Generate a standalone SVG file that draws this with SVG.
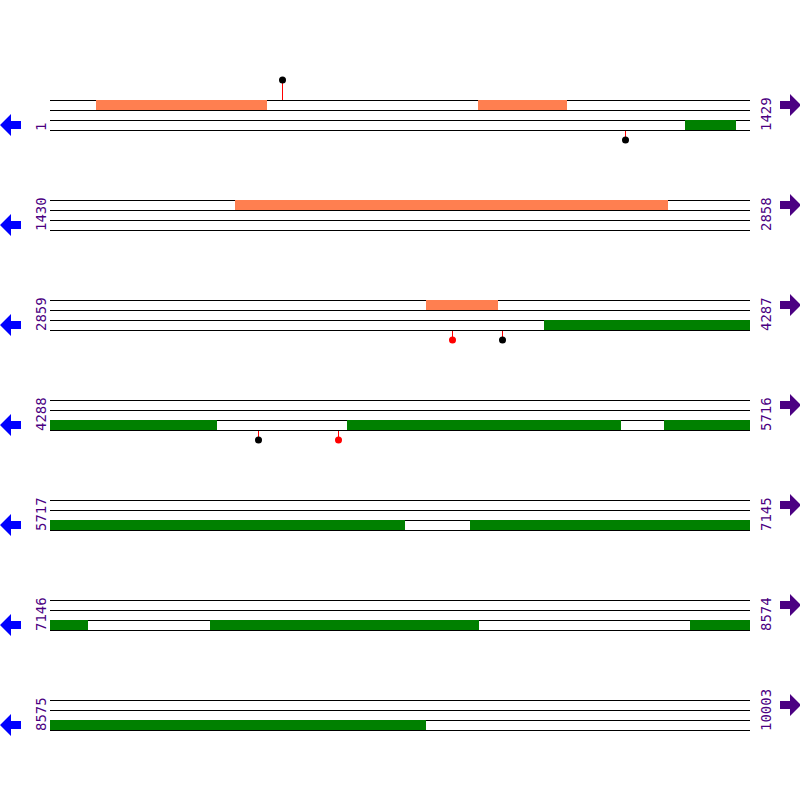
<svg xmlns="http://www.w3.org/2000/svg" width="800" height="800" viewBox="0 0 800 800">
<style>
.ln{stroke:#000;stroke-width:1}
.or{fill:#FF7F50}
.gr{fill:#008000}
.lab{font-family:"DejaVu Sans Mono","Liberation Mono",monospace;font-size:14px;fill:#4B0082}
.la{fill:#0000FF}
.ra{fill:#4B0082}
.st{stroke:#FF0000;stroke-width:1}
</style>
<defs>
<g id="tracks">
<line class="ln" x1="50" y1="100.5" x2="750" y2="100.5"/>
<line class="ln" x1="50" y1="110.5" x2="750" y2="110.5"/>
<line class="ln" x1="50" y1="120.5" x2="750" y2="120.5"/>
<line class="ln" x1="50" y1="130.5" x2="750" y2="130.5"/>
</g>
<polygon id="larr" points="0,125 11,114 11,121 21,121 21,129 11,129 11,136"/>
<polygon id="rarr" points="801,105 790,94 790,101 780,101 780,109 790,109 790,116"/>
</defs>
<g id="row1">
<use href="#tracks"/>
<rect class="or" x="96" y="100" width="171" height="10"/>
<rect class="or" x="478" y="100" width="89" height="10"/>
<rect class="gr" x="685" y="120" width="51" height="10"/>
<line class="st" x1="282.5" y1="100" x2="282.5" y2="80"/>
<circle cx="282.5" cy="80" r="3.5" fill="#000"/>
<line class="st" x1="625.5" y1="131" x2="625.5" y2="140"/>
<circle cx="625.5" cy="140" r="3.5" fill="#000"/>
<text class="lab" transform="translate(46,131) rotate(-90)">1</text>
<text class="lab" transform="translate(771,131) rotate(-90)">1429</text>
<use href="#larr" class="la"/>
<use href="#rarr" class="ra"/>
</g>
<g id="row2" transform="translate(0,100)">
<use href="#tracks"/>
<rect class="or" x="235" y="100" width="433" height="10"/>
<text class="lab" transform="translate(46,131) rotate(-90)">1430</text>
<text class="lab" transform="translate(771,131) rotate(-90)">2858</text>
<use href="#larr" class="la"/>
<use href="#rarr" class="ra"/>
</g>
<g id="row3" transform="translate(0,200)">
<use href="#tracks"/>
<rect class="or" x="426" y="100" width="72" height="10"/>
<rect class="gr" x="544" y="120" width="206" height="10"/>
<line class="st" x1="452.5" y1="131" x2="452.5" y2="140"/>
<circle cx="452.5" cy="140" r="3.5" fill="#FF0000"/>
<line class="st" x1="502.5" y1="131" x2="502.5" y2="140"/>
<circle cx="502.5" cy="140" r="3.5" fill="#000"/>
<text class="lab" transform="translate(46,131) rotate(-90)">2859</text>
<text class="lab" transform="translate(771,131) rotate(-90)">4287</text>
<use href="#larr" class="la"/>
<use href="#rarr" class="ra"/>
</g>
<g id="row4" transform="translate(0,300)">
<use href="#tracks"/>
<rect class="gr" x="50" y="120" width="167" height="10"/>
<rect class="gr" x="347" y="120" width="274" height="10"/>
<rect class="gr" x="664" y="120" width="86" height="10"/>
<line class="st" x1="258.5" y1="131" x2="258.5" y2="140"/>
<circle cx="258.5" cy="140" r="3.5" fill="#000"/>
<line class="st" x1="338.5" y1="131" x2="338.5" y2="140"/>
<circle cx="338.5" cy="140" r="3.5" fill="#FF0000"/>
<text class="lab" transform="translate(46,131) rotate(-90)">4288</text>
<text class="lab" transform="translate(771,131) rotate(-90)">5716</text>
<use href="#larr" class="la"/>
<use href="#rarr" class="ra"/>
</g>
<g id="row5" transform="translate(0,400)">
<use href="#tracks"/>
<rect class="gr" x="50" y="120" width="355" height="10"/>
<rect class="gr" x="470" y="120" width="280" height="10"/>
<text class="lab" transform="translate(46,131) rotate(-90)">5717</text>
<text class="lab" transform="translate(771,131) rotate(-90)">7145</text>
<use href="#larr" class="la"/>
<use href="#rarr" class="ra"/>
</g>
<g id="row6" transform="translate(0,500)">
<use href="#tracks"/>
<rect class="gr" x="50" y="120" width="38" height="10"/>
<rect class="gr" x="210" y="120" width="269" height="10"/>
<rect class="gr" x="690" y="120" width="60" height="10"/>
<text class="lab" transform="translate(46,131) rotate(-90)">7146</text>
<text class="lab" transform="translate(771,131) rotate(-90)">8574</text>
<use href="#larr" class="la"/>
<use href="#rarr" class="ra"/>
</g>
<g id="row7" transform="translate(0,600)">
<use href="#tracks"/>
<rect class="gr" x="50" y="120" width="376" height="10"/>
<text class="lab" transform="translate(46,131) rotate(-90)">8575</text>
<text class="lab" transform="translate(771,131) rotate(-90)">10003</text>
<use href="#larr" class="la"/>
<use href="#rarr" class="ra"/>
</g>
</svg>
